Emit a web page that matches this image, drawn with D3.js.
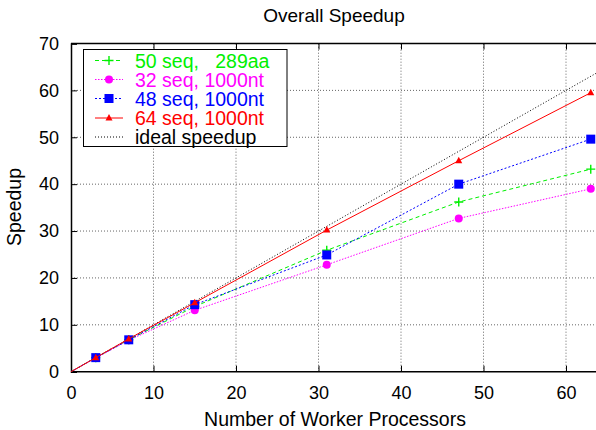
<!DOCTYPE html>
<html><head><meta charset="utf-8">
<script src="https://cdn.jsdelivr.net/npm/d3@7"></script>
<style>body{margin:0;background:#fff}svg{display:block}text{font-family:"Liberation Sans",Arial,sans-serif}</style>
</head><body><svg id="c" width="596" height="430"></svg>
<script>
const procs = [3, 7, 15, 31, 47, 63];
const seq50 = [3.0, 6.8, 13.9, 25.9, 36.2, 43.2];
const seq32 = [2.9, 6.7, 13.1, 22.8, 32.7, 39.0];
const seq48 = [3.0, 6.8, 14.3, 24.9, 40.0, 49.6];
const seq64 = [3.0, 7.0, 14.7, 30.2, 45.0, 59.5];
const idealX = [0, 64];
const xTicks = [0, 10, 20, 30, 40, 50, 60];
const yTicks = [0, 10, 20, 30, 40, 50, 60, 70];
const seriesNames = ["50 seq,   289aa", "32 seq, 1000nt", "48 seq, 1000nt", "64 seq, 1000nt"];
const seriesColors = ["#00f000", "#ff00ff", "#0000ff", "#ff0000"];
const seriesDash = ["4,3", "1.5,1.5", "2,2", null];
const seriesMarks = ["plus", "circle", "square", "triangle"];
const seriesData = [seq50, seq32, seq48, seq64];

const svg = d3.select("#c");
const x = d3.scaleLinear().domain([0, 64]).range([71, 599]);
const y = d3.scaleLinear().domain([0, 70]).range([371.7, 43.5]);

// grid
const g = svg.append("g");
g.selectAll(".gx").data(xTicks.filter(d => d > 0)).join("line")
  .attr("x1", d => x(d)).attr("x2", d => x(d)).attr("y1", y(0)).attr("y2", y(70))
  .attr("stroke", "#666").attr("stroke-width", 1).attr("stroke-dasharray", "1,2");
g.selectAll(".gy").data(yTicks.filter(d => d > 0 && d < 70)).join("line")
  .attr("x1", x(0)).attr("x2", 596).attr("y1", d => y(d)).attr("y2", d => y(d))
  .attr("stroke", "#666").attr("stroke-width", 1).attr("stroke-dasharray", "1,2");

// axes
const xAxis = d3.axisBottom(x).tickValues(xTicks).tickSize(-6).tickPadding(15);
const xa = svg.append("g").attr("transform", `translate(0,${y(0)})`).call(xAxis);
const yAxis = d3.axisLeft(y).tickValues(yTicks).tickSize(-6).tickPadding(12);
const ya = svg.append("g").attr("transform", `translate(${x(0)},0)`).call(yAxis);
const xTop = d3.axisTop(x).tickValues(xTicks).tickSize(-6).tickFormat("");
const xt = svg.append("g").attr("transform", `translate(0,${y(70)})`).call(xTop);
[xa, ya, xt].forEach(a => {
  a.select(".domain").attr("stroke", "#000").attr("stroke-width", 1.5);
  a.selectAll(".tick line").attr("stroke", "#000");
  a.selectAll("text").attr("font-size", 18).attr("fill", "#000").attr("font-family", "Liberation Sans, Arial, sans-serif");
});
xa.select(".domain").attr("d", `M${x(0)},0H596`);
xt.select(".domain").attr("d", `M${x(0)},0H596`);

// ideal
svg.append("line").attr("x1", x(idealX[0])).attr("y1", y(idealX[0])).attr("x2", x(idealX[1])).attr("y2", y(idealX[1]))
  .attr("stroke", "#000").attr("stroke-width", 1).attr("stroke-dasharray", "1,2");

function marker(sel, type, color) {
  if (type === "plus") {
    sel.append("path").attr("d", "M-4.5,0H4.5M0,-4.5V4.5").attr("stroke", color).attr("stroke-width", 1.4).attr("fill", "none");
  } else if (type === "circle") {
    sel.append("circle").attr("r", 4).attr("fill", color);
  } else if (type === "square") {
    sel.append("rect").attr("x", -4.5).attr("y", -4.5).attr("width", 9).attr("height", 9).attr("fill", color);
  } else {
    sel.append("path").attr("d", "M0,-4L3.5,2.5H-3.5Z").attr("fill", color);
  }
}

seriesData.forEach((s, k) => {
  const l = svg.append("path").datum([0].concat(s)).attr("fill", "none")
    .attr("d", d3.line().x((d, i) => x(i === 0 ? 0 : procs[i - 1])).y(d => y(d)))
    .attr("stroke", seriesColors[k]).attr("stroke-width", 1);
  if (seriesDash[k]) l.attr("stroke-dasharray", seriesDash[k]);
  s.forEach((v, i) => {
    const m = svg.append("g").attr("transform", `translate(${x(procs[i])},${y(v)})`);
    marker(m, seriesMarks[k], seriesColors[k]);
  });
});

// legend
const lg = svg.append("g");
lg.append("rect").attr("x", 83.5).attr("y", 49.5).attr("width", 203.5).attr("height", 97)
  .attr("fill", "#fff").attr("stroke", "#000").attr("stroke-width", 1);
const rowsY = [60.5, 79.5, 98.5, 118, 137];
seriesNames.forEach((n, k) => {
  const ry = rowsY[k];
  const l = lg.append("line").attr("x1", 95).attr("x2", 123).attr("y1", ry).attr("y2", ry)
    .attr("stroke", seriesColors[k]).attr("stroke-width", 1);
  if (seriesDash[k]) l.attr("stroke-dasharray", seriesDash[k]);
  marker(lg.append("g").attr("transform", `translate(109,${ry})`), seriesMarks[k], seriesColors[k]);
  lg.append("text").attr("x", 135).attr("y", ry + 7).attr("font-size", 19.5).attr("fill", seriesColors[k])
    .attr("xml:space", "preserve").style("white-space", "pre").text(n);
});
lg.append("line").attr("x1", 95).attr("x2", 123).attr("y1", rowsY[4]).attr("y2", rowsY[4])
  .attr("stroke", "#000").attr("stroke-dasharray", "1,2");
lg.append("text").attr("x", 135).attr("y", rowsY[4] + 7).attr("font-size", 19.5).attr("fill", "#000").text("ideal speedup");

// titles
svg.append("text").attr("x", 334).attr("y", 22).attr("text-anchor", "middle").attr("font-size", 19).text("Overall Speedup");
svg.append("text").attr("x", 335).attr("y", 426).attr("text-anchor", "middle").attr("font-size", 19.5).text("Number of Worker Processors");
svg.append("text").attr("transform", "translate(21,207) rotate(-90)").attr("text-anchor", "middle").attr("font-size", 19.5).text("Speedup");
</script></body></html>
